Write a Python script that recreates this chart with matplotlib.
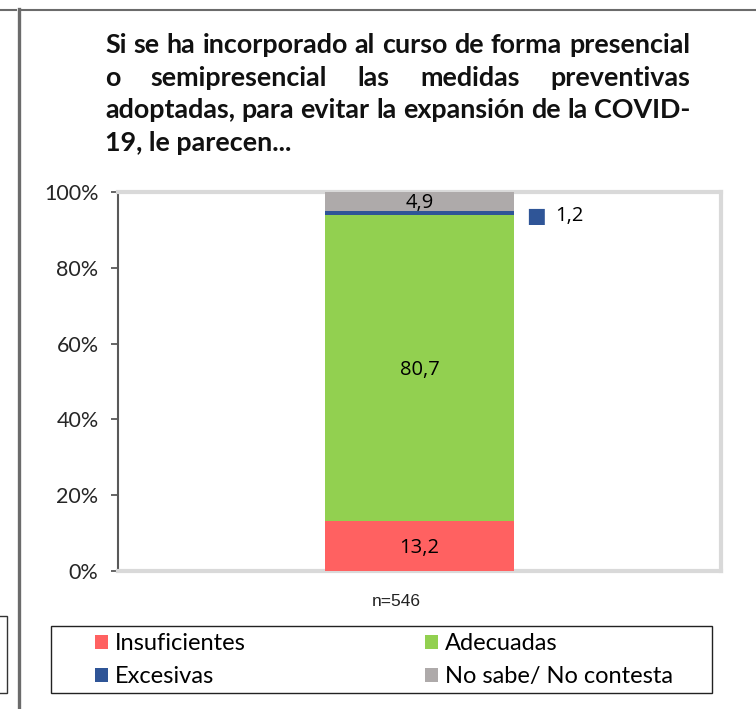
import matplotlib
matplotlib.use("Agg")
import matplotlib.pyplot as plt
from matplotlib.lines import Line2D
from matplotlib.patches import Rectangle, Patch
import numpy as np

# ---- data ----
categories = ["Insuficientes", "Adecuadas", "Excesivas", "No sabe/ No contesta"]
values = [13.2, 80.7, 1.2, 4.9]
colors = ["#FF6161", "#92D050", "#2F5597", "#AEAAAA"]
value_labels = ["13,2", "80,7", "1,2", "4,9"]
yticks = [0, 20, 40, 60, 80, 100]
ytick_labels = ["0%", "20%", "40%", "60%", "80%", "100%"]
title_lines = [
    "Si se ha incorporado al curso de forma presencial",
    "o semipresencial las medidas preventivas",
    "adoptadas, para evitar la expansión de la COVID-",
    "19, le parecen...",
]
n_text = "n=546"

W, H = 756, 709
fig = plt.figure(figsize=(W / 100, H / 100), dpi=100)


def fx(x):
    return x / W


def fy(y):
    return 1 - y / H


# ---- frame decorations ----
fig.add_artist(Line2D([fx(0), fx(16)], [fy(10), fy(10)], color="#6b6b6b", lw=1.5))
fig.add_artist(Line2D([fx(20), fx(756)], [fy(10), fy(10)], color="#6b6b6b", lw=1.5))
fig.add_artist(Line2D([fx(18.5), fx(18.5)], [fy(9), fy(709)], color="#6b6b6b", lw=2.4))
fig.add_artist(Rectangle((fx(-5), fy(693)), fx(12), (693 - 616) / H,
                         transform=fig.transFigure, fill=False, edgecolor="#333333", lw=1))

# ---- axes ----
ax = fig.add_axes([fx(118), fy(571), fx(721 - 118), (571 - 192) / H])
ax.set_xlim(-0.5, 0.5)
ax.set_ylim(0, 100)
bar_w = 0.313
bottom = 0
centers = []
for v, c in zip(values, colors):
    ax.bar(0, v, bottom=bottom, width=bar_w, color=c, zorder=3)
    centers.append(bottom + v / 2)
    bottom += v

for i, (lab, cy) in enumerate(zip(value_labels, centers)):
    if categories[i] == "Excesivas":
        ax.annotate("\u25A0", xy=(bar_w / 2, cy), xytext=(9, -2), textcoords="offset points",
                    ha="left", va="center", color=colors[i], fontsize=15,
                    family="DejaVu Sans")
        ax.annotate(lab, xy=(bar_w / 2, cy), xytext=(30, -2), textcoords="offset points",
                    ha="left", va="center", color="black", fontsize=14.5, family="Open Sans")
    else:
        ax.annotate(lab, xy=(0, cy), xytext=(0, -1.5), textcoords="offset points",
                    ha="center", va="center", fontsize=14.5, family="Open Sans",
                    color="black", zorder=4)

ax.set_yticks(yticks)
ax.set_yticklabels(ytick_labels, family="Lato", fontsize=15.5, color="#262626")
ax.set_xticks([])
for s in ["top", "right", "bottom"]:
    ax.spines[s].set_color("#D9D9D9")
    ax.spines[s].set_linewidth(3)
ax.spines["left"].set_color("#595959")
ax.spines["left"].set_linewidth(1.5)
ax.tick_params(axis="y", length=5, width=1.3, color="#595959", pad=9)
ax.set_facecolor("white")

# ---- n label ----
fig.text(fx(396), fy(602), n_text, ha="center", va="center", fontsize=12.5,
         family="Liberation Sans", color="#222222")

# ---- justified title ----
renderer = fig.canvas.get_renderer()
left_x, right_x = 105, 690
probe = fig.text(0, 0, title_lines[0], fontsize=16, family="Lato", weight="bold")
w0 = probe.get_window_extent(renderer).width
probe.remove()
tsize = 16 * (right_x - left_x) / w0
baselines = [53, 86, 118, 151]
for li, line in enumerate(title_lines):
    y = fy(baselines[li])
    if li == len(title_lines) - 1:
        fig.text(fx(left_x), y, line, fontsize=tsize, family="Lato", weight="bold",
                 ha="left", va="baseline", color="#111111")
        continue
    words = line.split(" ")
    widths = []
    for wd in words:
        t = fig.text(0, 0, wd, fontsize=tsize, family="Lato", weight="bold")
        widths.append(t.get_window_extent(renderer).width)
        t.remove()
    gap = (right_x - left_x - sum(widths)) / (len(words) - 1)
    x = left_x
    for wd, ww in zip(words, widths):
        fig.text(fx(x), y, wd, fontsize=tsize, family="Lato", weight="bold",
                 ha="left", va="baseline", color="#111111")
        x += ww + gap

# ---- legend ----
fig.add_artist(Rectangle((fx(51), fy(693)), fx(712 - 51), (693 - 626) / H,
                         transform=fig.transFigure, fill=False, edgecolor="#222222", lw=1))
handles = [Patch(facecolor=c, edgecolor="none") for c in colors]
leg_kw = dict(frameon=False, prop={"family": "Lato", "size": 17},
              handlelength=0.55, handleheight=0.55, handletextpad=0.3, labelspacing=0.52,
              borderpad=0, borderaxespad=0, loc="upper left")
l1 = fig.legend([handles[0], handles[2]], [categories[0], categories[2]],
                bbox_to_anchor=(fx(95), fy(633)), **leg_kw)
l2 = fig.legend([handles[1], handles[3]], [categories[1], categories[3]],
                bbox_to_anchor=(fx(425), fy(633)), **leg_kw)

fig.savefig("out.png", dpi=100)
